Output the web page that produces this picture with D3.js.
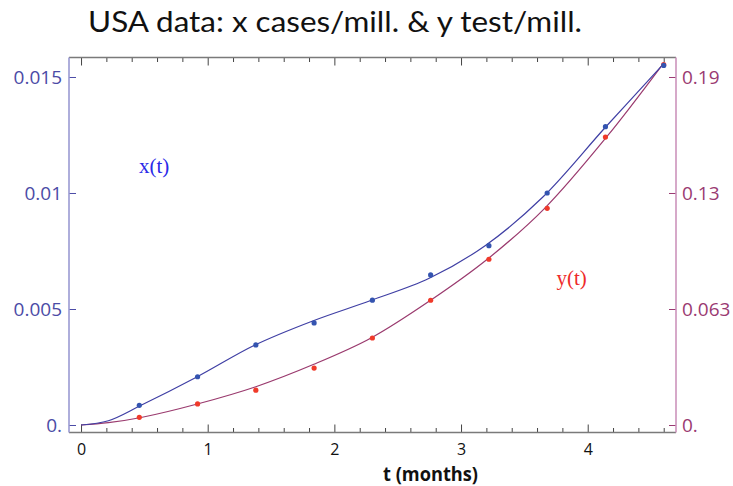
<!DOCTYPE html>
<html>
<head>
<meta charset="utf-8">
<script src="https://cdn.jsdelivr.net/npm/d3@7"></script>
<style>
  html, body { margin: 0; padding: 0; background: #fff; }
  svg { display: block; }
</style>
</head>
<body>
<svg id="chart" width="733" height="486"></svg>
<script>
// Sample times (months) of the observations
const times = [0.46, 0.92, 1.38, 1.84, 2.30, 2.76, 3.22, 3.68, 4.14, 4.60];
// x: confirmed cases per million (left axis)
const casesPerMill = [0.00085, 0.00208, 0.00345, 0.00440, 0.00538, 0.00647, 0.00773, 0.01000, 0.01286, 0.01550];
// y: tests per million (right axis)
const testsPerMill = [0.0042, 0.0115, 0.0190, 0.0311, 0.0475, 0.0681, 0.0905, 0.1183, 0.1572, 0.1967];

// Fitted model curves, [t, value]
const fitX = [[0, 0], [0.216, 0.000185], [0.474, 0.000849], [0.918, 0.002082], [1.373, 0.003448],
  [1.834, 0.004496], [2.287, 0.005366], [2.749, 0.006323], [3.19, 0.007728], [3.644, 0.009815],
  [4.138, 0.012823], [4.586, 0.015487]];
const fitY = [[0, 0], [0.216, 0.00126], [0.474, 0.0041], [0.918, 0.01147], [1.38, 0.02091],
  [1.838, 0.03314], [2.29, 0.0475], [2.76, 0.06808], [3.207, 0.09047], [3.66, 0.11831],
  [4.149, 0.15724], [4.586, 0.19639]];

// Axis ticks
const tMajor = [0, 1, 2, 3, 4];
const tMinor = [0.2, 0.4, 0.6, 0.8, 1.2, 1.4, 1.6, 1.8, 2.2, 2.4, 2.6, 2.8, 3.2, 3.4, 3.6, 3.8, 4.2, 4.4, 4.6];
const leftTicks = [0, 0.005, 0.01, 0.015];
const rightTicks = [0, 0.19 / 3, 0.38 / 3, 0.19];

const title = "USA data: x cases/mill. & y test/mill.";
const xLabel = "t (months)";

const svg = d3.select("#chart");
const L = 69, R = 676, T = 57.5, B = 432.5;

const xs = d3.scaleLinear().domain([-0.095, 4.697]).range([L, R]);
const yl = d3.scaleLinear().domain([-0.000323, 0.01584]).range([B, T]);
const ratio = 0.19 / 0.015;
const yr = d3.scaleLinear().domain(yl.domain().map(v => v * ratio)).range([B, T]);

const blueAxis = "#4b4ba6", blueFrame = "#9a9ad2";
const plumAxis = "#9a3a72", plumFrame = "#cc94bc";
const grayFrame = "#7a7a7a";
const tickFont = "'Open Sans', 'DejaVu Sans', sans-serif";

// Title
svg.append("text")
  .attr("x", 88).attr("y", 31.5)
  .attr("font-family", "Lato, 'Open Sans', sans-serif")
  .attr("font-size", 28)
  .attr("textLength", 494).attr("lengthAdjust", "spacingAndGlyphs")
  .attr("fill", "#111")
  .text(title);

// Bottom axis: major ticks with labels, minor ticks without
function bottomAxis(vals, size, labels) {
  const g = svg.append("g").attr("transform", `translate(0,${B})`)
    .call(d3.axisBottom(xs).tickValues(vals).tickSize(-size).tickSizeOuter(0)
      .tickFormat(labels ? d3.format("d") : ""));
  g.select(".domain").remove();
  g.selectAll("line").attr("stroke", "#444").attr("stroke-width", 1);
  g.selectAll("text").attr("font-family", tickFont).attr("font-size", 16)
    .attr("fill", "#111").attr("y", 11).attr("dy", "0.71em");
}
bottomAxis(tMajor, 8, true);
bottomAxis(tMinor, 4.5, false);

// Top mirrored ticks
function topAxis(vals, size) {
  const g = svg.append("g").attr("transform", `translate(0,${T})`)
    .call(d3.axisTop(xs).tickValues(vals).tickSize(-size).tickSizeOuter(0).tickFormat(""));
  g.select(".domain").remove();
  g.selectAll("line").attr("stroke", "#444").attr("stroke-width", 1);
}
topAxis(tMajor, 8);
topAxis(tMinor, 4.5);

// Left axis (cases)
const fmtZero = f => v => (v === 0 ? "0." : f(v));
const gl = svg.append("g").attr("transform", `translate(${L},0)`)
  .call(d3.axisLeft(yl).tickValues(leftTicks).tickSize(-7).tickSizeOuter(0)
    .tickFormat(fmtZero(d3.format(""))));
gl.select(".domain").remove();
gl.selectAll("line").attr("stroke", blueAxis);
gl.selectAll("text").attr("font-family", tickFont).attr("font-size", 19)
  .attr("fill", blueAxis).attr("x", -7);

// Right axis (tests)
const gr = svg.append("g").attr("transform", `translate(${R},0)`)
  .call(d3.axisRight(yr).tickValues(rightTicks).tickSize(-7).tickSizeOuter(0)
    .tickFormat(fmtZero(d3.format(".2"))));
gr.select(".domain").remove();
gr.selectAll("line").attr("stroke", plumAxis);
gr.selectAll("text").attr("font-family", tickFont).attr("font-size", 19)
  .attr("fill", plumAxis).attr("x", 6);

// Frame
svg.append("line").attr("x1", L).attr("x2", R).attr("y1", B).attr("y2", B)
  .attr("stroke", grayFrame).attr("stroke-width", 1.6);
svg.append("line").attr("x1", L).attr("x2", R).attr("y1", T).attr("y2", T)
  .attr("stroke", grayFrame).attr("stroke-width", 1.6);
svg.append("line").attr("x1", L).attr("x2", L).attr("y1", T).attr("y2", B)
  .attr("stroke", blueFrame).attr("stroke-width", 1.6);
svg.append("line").attr("x1", R).attr("x2", R).attr("y1", T).attr("y2", B)
  .attr("stroke", plumFrame).attr("stroke-width", 1.6);

// X-axis title
svg.append("text")
  .attr("x", 383).attr("y", 480.5)
  .attr("font-family", "'Open Sans', sans-serif").attr("font-weight", "bold")
  .attr("font-size", 19)
  .attr("textLength", 95).attr("lengthAdjust", "spacingAndGlyphs")
  .attr("fill", "#111")
  .text(xLabel);

// Fitted curves
const lineX = d3.line().x(d => xs(d[0])).y(d => yl(d[1])).curve(d3.curveCatmullRom.alpha(0.5));
const lineY = d3.line().x(d => xs(d[0])).y(d => yr(d[1])).curve(d3.curveCatmullRom.alpha(0.5));
svg.append("path").attr("d", lineY(fitY)).attr("fill", "none")
  .attr("stroke", "#9a3a6e").attr("stroke-width", 1.2);
svg.append("path").attr("d", lineX(fitX)).attr("fill", "none")
  .attr("stroke", "#3f3fa4").attr("stroke-width", 1.2);

// Observations
svg.append("g").selectAll("circle").data(times.map((t, i) => [t, testsPerMill[i]]))
  .join("circle").attr("cx", d => xs(d[0])).attr("cy", d => yr(d[1])).attr("r", 2.6)
  .attr("fill", "#f03a2a");
svg.append("g").selectAll("circle").data(times.map((t, i) => [t, casesPerMill[i]]))
  .join("circle").attr("cx", d => xs(d[0])).attr("cy", d => yl(d[1])).attr("r", 2.6)
  .attr("fill", "#3454b0");

// Curve labels
svg.append("text").attr("x", 139).attr("y", 173)
  .attr("font-family", "'Liberation Serif', 'DejaVu Serif', serif").attr("font-size", 21)
  .attr("fill", "#2a2ae8").text("x(t)");
svg.append("text").attr("x", 556.5).attr("y", 285)
  .attr("font-family", "'Liberation Serif', 'DejaVu Serif', serif").attr("font-size", 21)
  .attr("fill", "#ee2a2a").text("y(t)");
</script>
</body>
</html>
